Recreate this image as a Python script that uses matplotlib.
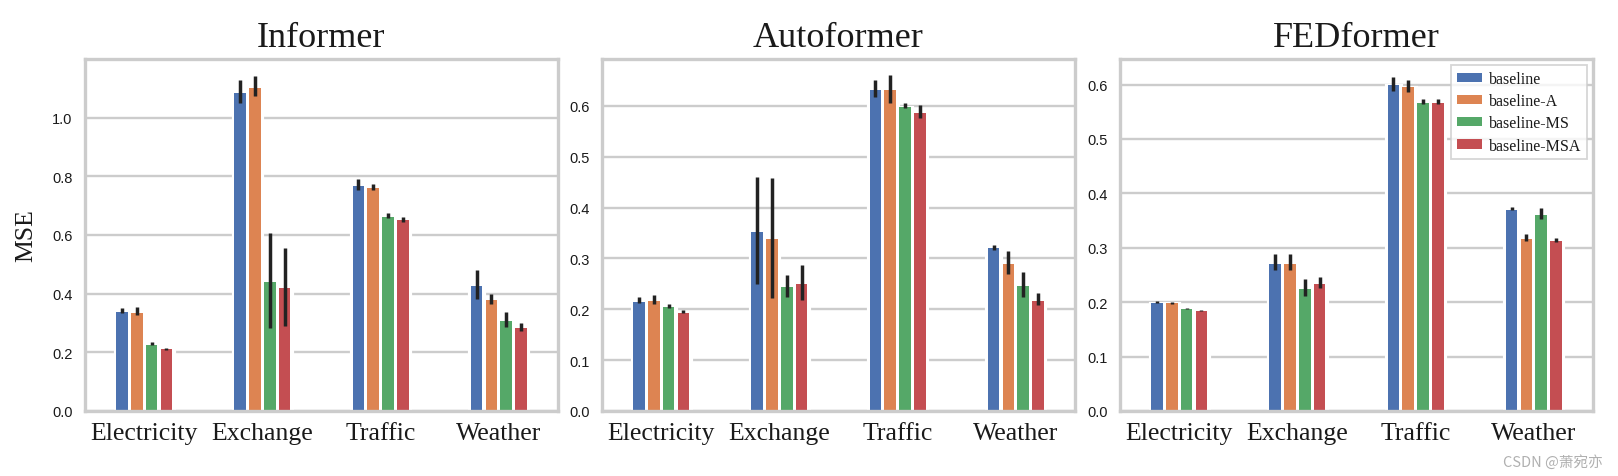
import matplotlib
matplotlib.use("Agg")
import matplotlib.pyplot as plt
from matplotlib.patches import Patch
import numpy as np

datasets = ["Electricity", "Exchange", "Traffic", "Weather"]
variants = ["baseline", "baseline-A", "baseline-MS", "baseline-MSA"]
models = ["Informer", "Autoformer", "FEDformer"]
colors = ["#4C72B0", "#DD8452", "#55A868", "#C44E52"]

# rows = variants, columns = datasets
informer_mean = [[0.337, 1.084, 0.768, 0.427],
                 [0.333, 1.102, 0.761, 0.379],
                 [0.226, 0.439, 0.663, 0.307],
                 [0.210, 0.421, 0.650, 0.282]]
informer_lo = [[0.335, 1.050, 0.752, 0.381],
               [0.327, 1.075, 0.755, 0.366],
               [0.226, 0.282, 0.659, 0.288],
               [0.209, 0.291, 0.646, 0.274]]
informer_hi = [[0.350, 1.127, 0.791, 0.482],
               [0.353, 1.141, 0.775, 0.399],
               [0.236, 0.606, 0.675, 0.336],
               [0.216, 0.557, 0.661, 0.299]]

autoformer_mean = [[0.215, 0.352, 0.631, 0.3195],
                   [0.217, 0.338, 0.631, 0.289],
                   [0.204, 0.244, 0.598, 0.246],
                   [0.193, 0.249, 0.586, 0.217]]
autoformer_lo = [[0.212, 0.250, 0.618, 0.317],
                 [0.211, 0.223, 0.606, 0.269],
                 [0.203, 0.225, 0.596, 0.225],
                 [0.193, 0.219, 0.576, 0.209]]
autoformer_hi = [[0.225, 0.461, 0.650, 0.327],
                 [0.229, 0.459, 0.661, 0.3155],
                 [0.210, 0.268, 0.605, 0.273],
                 [0.199, 0.287, 0.602, 0.231]]

fedformer_mean = [[0.198, 0.271, 0.599, 0.370],
                  [0.198, 0.271, 0.596, 0.316],
                  [0.188, 0.224, 0.566, 0.361],
                  [0.184, 0.233, 0.567, 0.312]]
fedformer_lo = [[0.198, 0.259, 0.589, 0.369],
                [0.197, 0.259, 0.587, 0.312],
                [0.188, 0.211, 0.564, 0.353],
                [0.184, 0.226, 0.565, 0.310]]
fedformer_hi = [[0.202, 0.288, 0.614, 0.375],
                [0.200, 0.288, 0.609, 0.325],
                [0.189, 0.243, 0.574, 0.374],
                [0.185, 0.246, 0.574, 0.318]]

ylims = [1.2, 0.692, 0.647]
yticks = [np.arange(0, 1.01, 0.2), np.arange(0, 0.61, 0.1), np.arange(0, 0.61, 0.1)]

all_mean = [informer_mean, autoformer_mean, fedformer_mean]
all_lo = [informer_lo, autoformer_lo, fedformer_lo]
all_hi = [informer_hi, autoformer_hi, fedformer_hi]

W, H = 1618, 477
fig = plt.figure(figsize=(W / 100, H / 100), dpi=100)
lefts = [85, 602, 1120]
aw, ab, ah = 473, 65, 352

serif = "Liberation Serif"
sans = "Liberation Sans"
txt = "#1a1a1a"
grey = "#cccccc"

x = np.arange(len(datasets))
bw = 0.125
gap = 0.027
offsets = [-1.5 * bw, -0.5 * bw, 0.5 * bw, 1.5 * bw]

axes = []
for k, model in enumerate(models):
    ax = fig.add_axes([lefts[k] / W, ab / H, aw / W, ah / H])
    axes.append(ax)
    ax.set_axisbelow(True)
    ax.yaxis.grid(True, color=grey, linewidth=1.7)
    ax.xaxis.grid(False)
    for i in range(len(variants)):
        # white halo that hides the grid around each bar
        ax.bar(x + offsets[i], all_mean[k][i], width=bw, color="white",
               edgecolor="white", linewidth=2.3, zorder=1.8)
        ax.bar(x + offsets[i], all_mean[k][i], width=bw - gap, color=colors[i],
               linewidth=0, zorder=2)
        ax.vlines(x + offsets[i], all_lo[k][i], all_hi[k][i], color="#222222",
                  linewidth=2.5, zorder=3)
    ax.set_xlim(-0.5, 3.5)
    ax.set_ylim(0, ylims[k])
    ax.set_yticks(yticks[k])
    ax.set_yticklabels([f"{v:.1f}" for v in yticks[k]], fontfamily=sans, fontsize=10.5, color=txt)
    ax.set_xticks(x)
    ax.set_xticklabels(datasets, fontfamily=serif, fontsize=18.5, color=txt)
    ax.tick_params(axis="both", length=0)
    ax.tick_params(axis="y", pad=9)
    ax.tick_params(axis="x", pad=8)
    for sp in ax.spines.values():
        sp.set_color(grey)
        sp.set_linewidth(2.4)
        sp.set_zorder(4)
    ax.set_title(model, fontfamily=serif, fontsize=26, color=txt, pad=9.5)

axes[0].set_ylabel("MSE", fontfamily=serif, fontsize=18.5, color=txt)
axes[0].yaxis.set_label_coords(-0.10, 0.5)

handles = [Patch(facecolor=c, edgecolor="none") for c in colors]
leg = axes[2].legend(handles, variants, loc="upper right",
                     prop={"family": serif, "size": 11.5},
                     handlelength=1.6, handleheight=0.5, handletextpad=0.4,
                     labelspacing=0.39, borderpad=0.35, borderaxespad=0.4,
                     fancybox=False, framealpha=0.8)
leg.set_zorder(5)
leg.get_frame().set_edgecolor(grey)
leg.get_frame().set_linewidth(1.3)
for t in leg.get_texts():
    t.set_color(txt)

fig.text(1603 / W, 1 - 462 / H, "CSDN @萧宛亦", ha="right", va="center",
         fontsize=10.5, color="#b0b0b0", family=["Noto Sans CJK SC", "DejaVu Sans"])

fig.savefig("out.png", dpi=100)
